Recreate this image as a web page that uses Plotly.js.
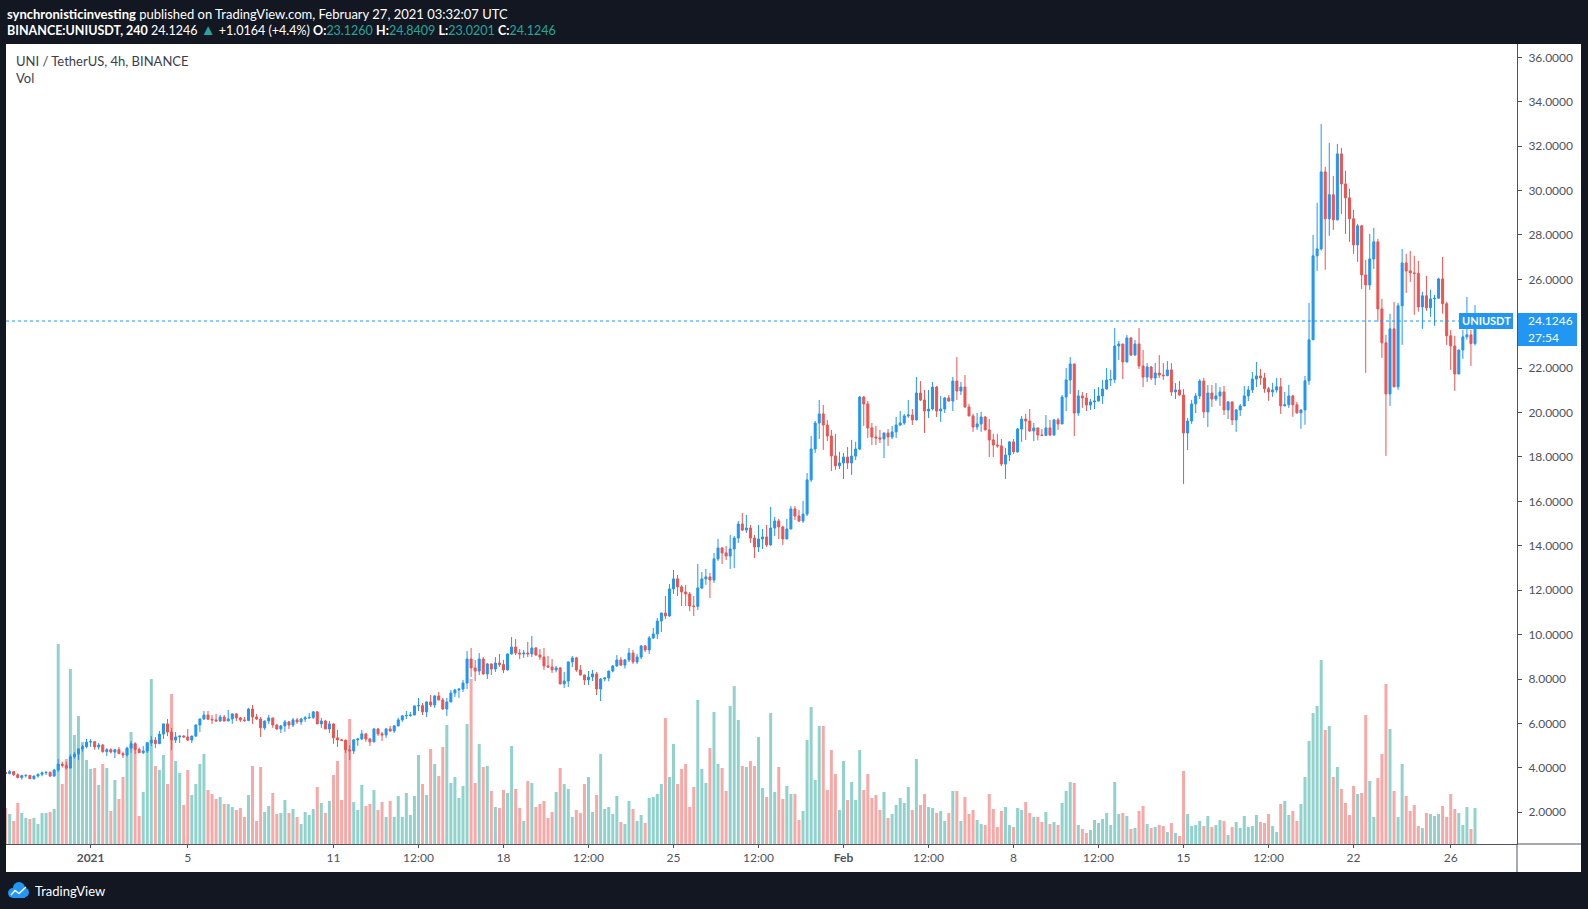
<!DOCTYPE html>
<html><head><meta charset="utf-8">
<script src="https://cdn.plot.ly/plotly-3.0.1.min.js"></script>
<style>html,body{margin:0;padding:0;background:#fff;}#chart{width:1588px;height:909px;}</style>
</head><body><div id="chart"></div>
<script>
// ---- data ----
const START = '2020-12-28T12:00:00Z';   // first 4h candle
const FIRST_OPEN = 3.79;
const close = [
3.74,3.83,3.69,3.56,3.65,3.66,3.51,3.63,3.71,3.78,
3.80,3.63,3.90,4.17,4.11,3.99,4.50,4.62,4.85,4.95,
5.16,5.18,4.94,5.03,4.73,4.82,4.71,4.82,4.64,4.58,
4.89,5.09,4.83,4.68,4.76,5.12,5.25,5.09,5.52,5.98,
5.61,5.25,5.39,5.43,5.39,5.25,5.43,5.93,6.20,6.38,
6.19,6.16,6.11,6.29,6.11,6.20,6.43,6.25,6.16,6.13,
6.65,6.29,6.20,5.80,6.11,6.25,5.93,5.75,5.89,6.07,
5.93,6.16,6.07,6.20,6.25,6.27,6.52,5.98,6.11,5.75,
5.98,5.35,5.26,5.24,4.81,4.76,5.26,5.30,5.53,5.30,
5.17,5.75,5.53,5.48,5.75,5.66,5.89,6.16,6.34,6.36,
6.38,6.79,6.80,6.52,6.97,6.83,7.24,7.06,6.65,6.97,
7.37,7.51,7.55,7.82,8.90,8.50,8.36,8.90,8.23,8.68,
8.45,8.72,8.65,8.41,9.13,9.44,9.17,9.13,9.17,9.13,
9.40,9.08,8.99,8.59,8.54,8.41,8.50,7.78,7.91,8.77,
8.95,8.41,8.18,7.96,8.09,8.23,7.55,8.00,8.05,8.36,
8.59,8.86,8.63,8.86,9.17,8.77,8.99,9.49,9.31,9.85,
10.03,10.61,10.97,10.84,12.06,12.51,12.15,11.92,11.83,11.29,
11.27,12.10,12.51,12.60,12.46,13.41,13.90,13.68,13.54,13.86,
14.35,14.98,14.71,14.80,14.35,13.95,14.31,14.40,14.04,14.80,
15.12,14.85,14.31,14.76,15.66,15.34,15.12,15.43,16.97,18.36,
19.53,19.94,19.44,18.95,18.05,17.60,17.73,18.00,17.73,18.04,
18.36,20.70,20.39,19.31,18.90,18.86,18.81,19.08,18.90,19.13,
19.44,19.53,19.85,19.89,19.67,20.88,20.57,20.07,20.16,21.15,
20.07,20.16,20.66,20.52,21.42,20.97,21.15,20.25,19.85,19.35,
19.49,19.80,19.22,18.77,18.54,18.50,17.68,18.09,18.68,18.23,
19.26,19.71,19.62,19.17,19.31,18.99,18.97,19.31,18.99,19.67,
19.49,20.70,21.47,22.19,19.98,20.75,20.66,20.34,20.48,20.52,
20.75,21.06,21.47,21.49,23.00,23.09,22.28,23.36,22.59,23.09,
22.10,21.60,22.05,21.56,21.78,21.69,21.66,21.92,20.93,21.02,
20.79,19.08,19.62,20.39,20.75,21.42,20.03,20.88,20.61,20.75,
20.93,20.12,20.48,19.67,20.12,20.30,20.75,21.02,21.51,21.65,
21.56,21.07,20.93,21.02,21.16,20.30,20.35,20.75,20.35,19.99,
20.12,21.43,23.28,27.06,27.37,30.84,28.73,29.81,28.68,31.65,
30.30,29.67,28.73,27.55,28.41,26.20,25.75,26.92,27.69,24.67,
23.14,20.84,23.77,21.16,24.81,26.74,26.38,26.29,26.27,24.76,
25.26,24.72,25.12,25.15,26.02,24.90,23.46,23.00,21.74,22.82,
23.41,23.50,23.108,24.1246
];
const high = [
3.81,3.90,3.86,3.75,3.68,3.71,3.68,3.65,3.74,3.83,
3.83,3.83,3.96,4.40,4.28,4.28,4.61,4.71,4.88,5.03,
5.30,5.30,5.16,5.12,5.07,4.89,4.88,4.86,4.94,4.73,
4.95,5.21,5.16,4.91,4.98,5.16,5.43,5.39,5.66,5.98,
6.20,5.79,5.61,5.45,5.48,5.75,5.45,5.95,6.22,6.56,
6.56,6.38,6.43,6.38,6.38,6.61,6.45,6.45,6.29,6.29,
6.70,6.83,6.43,6.29,6.13,6.38,6.25,5.98,5.93,6.16,
6.11,6.25,6.25,6.25,6.34,6.47,6.56,6.56,6.25,6.16,
6.11,6.00,5.71,5.30,5.28,5.03,5.28,5.32,5.71,5.55,
5.35,5.80,5.80,5.62,5.80,5.89,5.93,6.25,6.38,6.56,
6.52,6.80,7.15,6.92,6.99,7.28,7.28,7.42,7.15,7.15,
7.51,7.55,7.56,7.96,9.26,9.40,8.86,9.17,8.99,8.72,
8.70,8.99,9.13,8.86,9.15,9.89,9.80,9.35,9.31,9.67,
9.94,9.44,9.35,9.40,9.04,8.90,8.59,8.54,8.32,8.79,
9.04,9.00,8.63,8.20,8.36,8.41,8.32,8.05,8.07,8.37,
8.63,9.08,8.99,8.90,9.40,9.31,9.13,9.53,9.53,9.94,
10.30,10.75,10.99,11.74,12.28,12.91,12.69,12.24,12.24,11.92,
11.74,13.18,12.82,12.96,12.78,13.68,14.31,13.95,13.99,14.49,
14.44,15.12,15.48,15.39,14.94,14.49,14.94,14.76,14.94,15.75,
15.30,15.21,14.90,15.21,15.79,15.79,15.61,16.02,17.28,18.95,
19.62,20.57,20.34,19.67,19.22,19.04,18.23,18.18,18.45,18.77,
18.68,20.75,20.75,20.52,19.53,19.40,19.22,19.10,19.26,19.40,
19.80,20.07,19.94,20.57,20.16,21.60,21.42,21.02,21.02,21.38,
21.20,20.75,20.70,20.79,21.60,22.50,21.38,21.69,20.39,19.94,
19.98,20.03,19.85,19.71,19.04,19.04,18.81,18.41,18.72,18.81,
19.31,19.85,19.94,20.16,19.53,19.31,19.26,19.89,19.66,19.71,
19.76,20.79,22.01,22.50,22.19,21.02,20.93,20.88,20.61,21.06,
21.15,21.47,22.01,21.92,23.81,23.22,23.09,23.49,23.40,23.27,
23.81,22.82,22.23,22.10,22.23,22.59,22.23,22.32,22.23,21.33,
21.42,21.06,19.76,20.57,20.88,21.51,21.56,21.24,21.24,21.33,
21.15,21.20,20.52,20.50,20.16,20.39,21.20,21.20,21.83,22.28,
21.97,21.79,21.16,21.34,21.56,21.56,20.93,21.25,20.80,20.48,
20.14,21.65,24.94,28.00,29.45,33.00,31.07,32.15,30.66,32.10,
31.92,30.89,30.08,29.13,28.50,28.45,26.88,28.05,28.32,27.82,
25.12,23.50,24.45,24.99,24.94,27.37,27.15,27.28,27.06,26.83,
25.44,26.16,25.53,25.30,26.07,27.01,24.99,23.72,23.46,22.84,
23.72,25.21,23.72,24.8409
];
const low = [
3.72,3.71,3.63,3.53,3.47,3.56,3.50,3.47,3.56,3.62,
3.68,3.60,3.60,3.81,4.01,3.92,3.98,4.41,4.35,4.73,
4.88,4.95,4.82,4.82,4.68,4.53,4.65,4.44,4.62,4.44,
4.50,4.67,4.62,4.67,4.62,4.67,4.98,4.89,5.07,5.30,
5.43,4.80,5.12,5.12,5.36,5.21,5.12,5.39,5.61,6.16,
6.16,5.98,6.08,6.08,6.08,6.11,5.98,6.11,6.07,6.07,
6.10,5.98,6.16,5.39,5.71,5.98,5.80,5.71,5.57,5.62,
5.75,5.84,5.98,5.93,6.07,6.20,6.20,5.98,5.80,5.75,
5.57,5.08,4.94,5.21,4.67,4.35,4.62,4.99,5.26,5.17,
4.99,5.15,5.44,5.21,5.35,5.62,5.57,5.87,6.07,6.20,
6.30,6.36,6.56,6.38,6.29,6.74,6.70,7.04,6.61,6.34,
6.95,7.19,7.15,7.42,7.55,8.09,7.91,8.18,8.20,8.00,
8.18,8.32,8.54,8.27,8.38,9.10,9.08,8.90,8.95,8.99,
8.99,9.05,8.86,8.41,8.52,8.27,8.30,7.76,7.60,7.64,
8.54,8.32,8.16,7.73,7.73,7.91,7.28,7.01,7.90,7.90,
8.30,8.55,8.59,8.47,8.77,8.68,8.68,8.90,9.22,9.13,
9.80,9.80,10.12,10.70,10.80,11.83,11.74,11.29,11.29,11.06,
10.84,11.11,12.05,12.24,11.65,12.33,13.32,13.18,13.36,12.96,
13.00,14.13,14.67,14.58,14.13,13.45,13.72,13.86,13.95,14.00,
14.44,14.31,14.04,14.29,14.74,15.16,15.07,15.03,15.34,16.88,
18.18,18.81,18.32,18.72,17.37,17.42,17.46,17.01,17.46,17.19,
17.86,18.31,19.40,18.86,18.54,18.54,18.63,17.95,18.50,18.80,
18.86,19.40,19.45,19.76,19.44,19.65,20.52,19.08,19.76,20.10,
19.80,19.58,19.98,20.48,20.07,20.57,20.79,20.23,19.83,19.13,
19.22,19.13,19.20,18.00,18.00,18.41,17.59,17.01,17.82,18.14,
18.20,18.68,18.77,19.13,18.72,18.75,18.94,18.95,18.94,18.96,
19.22,19.47,20.07,20.84,18.94,19.85,20.21,20.07,20.12,20.16,
20.50,20.39,21.04,21.20,21.33,22.37,21.51,22.26,22.55,22.57,
21.96,21.15,21.38,21.47,21.24,21.56,21.47,21.64,20.75,20.61,
20.77,16.78,18.31,19.49,19.98,20.61,19.76,19.35,20.25,20.52,
20.30,19.89,19.71,19.44,19.13,19.85,20.28,20.52,20.88,21.15,
21.25,20.89,20.53,20.71,20.90,19.94,20.28,20.21,19.81,19.95,
19.27,19.45,21.25,23.26,26.38,27.30,26.43,27.96,28.23,28.66,
28.95,28.05,27.69,27.15,26.79,25.57,21.79,25.53,26.47,24.09,
22.46,18.05,20.30,21.14,21.02,23.05,25.39,25.89,24.40,24.54,
23.77,24.58,24.31,23.91,25.13,24.45,23.05,21.92,20.98,21.72,
22.42,23.28,22.10,23.0201
];
const volume = [ // millions of UNI (approx.)
1.8,1.5,1.15,2.05,1.55,1.3,1.25,1.3,1.0,1.55,
1.55,1.6,1.75,10.0,3.0,4.25,8.75,5.45,6.4,5.1,
4.2,3.75,3.8,2.95,4.0,3.8,1.65,3.2,2.25,3.35,
4.75,5.6,5.0,1.4,2.6,5.1,8.25,3.9,3.7,4.45,
3.0,7.5,4.15,3.55,1.95,3.7,2.45,3.0,4.0,4.5,
2.7,2.5,2.25,2.35,2.0,2.0,1.85,1.7,1.8,1.35,
2.45,3.9,1.15,3.85,1.6,1.9,2.55,1.5,1.55,2.2,
1.55,1.75,1.35,1.0,1.6,1.45,1.75,2.85,2.05,1.55,
2.15,3.45,4.15,2.2,5.2,6.25,2.1,1.7,2.95,1.9,
2.0,2.7,1.7,2.1,1.35,2.15,1.35,2.4,1.35,2.55,
1.45,2.4,4.45,3.0,2.45,4.75,4.0,3.4,4.85,5.95,
3.05,3.35,2.3,2.9,6.0,8.25,3.05,5.0,3.85,3.9,
2.65,1.85,1.8,2.7,2.55,4.9,2.75,1.8,1.15,3.15,
3.05,1.85,2.0,2.15,1.3,1.6,2.6,3.8,3.0,2.75,
1.35,1.7,1.55,3.0,3.35,1.6,2.45,4.5,1.75,1.85,
1.5,2.4,1.1,1.0,2.15,1.75,1.15,1.45,1.05,2.3,
2.35,2.5,3.0,6.3,3.35,5.0,3.0,3.75,4.0,1.85,
2.85,7.2,3.75,3.05,4.8,6.6,4.0,3.8,2.65,6.9,
7.9,6.2,3.9,3.85,4.15,3.9,5.35,2.8,2.35,6.55,
2.6,3.85,2.25,2.9,2.5,2.5,1.2,1.65,5.2,6.85,
3.2,5.9,5.9,2.7,4.7,3.5,1.7,4.15,2.2,3.1,
2.2,4.7,2.7,3.5,2.3,2.45,1.7,2.6,1.3,1.5,
1.95,2.3,2.05,2.85,1.7,4.25,1.95,2.5,1.85,1.8,
1.55,1.65,1.15,1.55,2.65,2.65,1.15,2.35,1.5,1.7,
1.2,1.0,0.95,2.5,1.75,0.85,1.65,1.85,0.95,0.85,
1.8,1.7,2.1,1.55,1.35,1.35,1.1,1.6,1.0,1.1,
0.95,2.05,2.65,3.1,3.05,0.95,0.75,0.55,0.7,1.2,
1.05,1.25,1.55,0.95,3.1,1.5,1.55,1.4,0.75,0.8,
1.65,1.9,1.0,0.8,0.85,0.95,0.9,0.6,1.05,0.55,
0.4,3.65,1.5,0.9,0.95,1.15,0.9,1.4,0.85,0.95,
1.2,1.15,0.45,0.85,1.1,0.8,1.4,0.85,0.9,1.45,
1.1,1.05,1.5,0.9,0.6,2.0,2.15,1.45,1.65,1.15,
2.0,3.35,5.15,6.55,6.9,9.2,5.7,5.9,3.35,3.85,
2.75,2.05,1.45,2.9,2.5,2.55,6.45,3.15,1.35,3.3,
4.5,8.0,5.75,2.65,1.35,4.0,2.4,1.65,1.95,0.9,
0.8,1.55,1.5,1.4,1.5,1.9,1.35,2.5,1.75,1.55,
0.95,1.85,0.75,1.8
];
const priceTicks = [2,4,6,8,10,12,14,16,18,20,22,24,26,28,30,32,34,36];
const timeTickVals = ['2021-01-01','2021-01-05','2021-01-11','2021-01-14 12:00','2021-01-18','2021-01-21 12:00','2021-01-25','2021-01-28 12:00','2021-02-01','2021-02-04 12:00','2021-02-08','2021-02-11 12:00','2021-02-15','2021-02-18 12:00','2021-02-22','2021-02-26'];
const timeTickText = ['<b>2021</b>','5','11','12:00','18','12:00','25','12:00','<b>Feb</b>','12:00','8','12:00','15','12:00','22','26'];
const LAST = 24.1246;

// ---- build traces ----
const t0 = Date.parse(START);
const x = close.map((_, i) => t0 + i * 4 * 3600 * 1000);
const open = close.map((c, i) => i === 0 ? FIRST_OPEN : close[i - 1]);
const hi = high.map((h, i) => Math.max(h, open[i], close[i]));
const lo = low.map((l, i) => Math.min(l, open[i], close[i]));
const UP = '#2196f3', DN = '#ef5350';
const volColors = close.map((c, i) => c >= open[i] ? 'rgba(38,166,154,0.5)' : 'rgba(239,83,80,0.5)');

const W = 1588, H = 909, L = 6, R = 1517, T = 44, B = 844;
const px = v => (v - L) / (R - L);
const py = v => (B - v) / (B - T);
const FONT = 'Lato, "Open Sans", sans-serif';

const traces = [
  {type: 'bar', x: x, y: volume, marker: {color: volColors, line: {width: 0}}, yaxis: 'y', hoverinfo: 'skip', showlegend: false},
  {type: 'candlestick', x: x, open: open, high: hi, low: lo, close: close, yaxis: 'y2',
   increasing: {line: {color: UP, width: 1}, fillcolor: UP},
   decreasing: {line: {color: DN, width: 1}, fillcolor: DN},
   whiskerwidth: 0, hoverinfo: 'skip', showlegend: false}
];

const rect = (x0, y0, x1, y1, color) => ({type: 'rect', xref: 'paper', yref: 'paper', x0: px(x0), x1: px(x1), y0: py(y0), y1: py(y1), fillcolor: color, line: {width: 0}, layer: 'below'});
const AX = '#50535e';
const shapes = [
  rect(0, 0, W, T, '#131722'),
  rect(0, 872, W, H, '#131722'),
  rect(0, T, L, 872, '#131722'),
  rect(1581, T, W, 872, '#131722'),
  {type: 'line', xref: 'paper', yref: 'paper', x0: px(R), x1: px(R), y0: py(B), y1: py(872), line: {color: AX, width: 1}},
  {type: 'line', xref: 'paper', yref: 'paper', x0: px(R), x1: px(1581), y0: py(B), y1: py(B), line: {color: AX, width: 1}},
  {type: 'line', xref: 'paper', yref: 'y2', x0: 0, x1: px(1459), y0: LAST, y1: LAST, line: {color: UP, width: 1, dash: 'dot'}},
  {type: 'rect', xref: 'paper', yref: 'paper', x0: px(1459), x1: px(1513), y0: py(313), y1: py(329), fillcolor: UP, line: {width: 0}},
  {type: 'rect', xref: 'paper', yref: 'paper', x0: px(1518), x1: px(1577), y0: py(313), y1: py(346), fillcolor: UP, line: {width: 0}},
  // TradingView logo (cloud)
  {type: 'circle', xref: 'paper', yref: 'paper', x0: px(8), x1: px(18), y0: py(888), y1: py(898), fillcolor: '#2196f3', line: {width: 0}},
  {type: 'circle', xref: 'paper', yref: 'paper', x0: px(13), x1: px(25), y0: py(882), y1: py(894), fillcolor: '#2196f3', line: {width: 0}},
  {type: 'circle', xref: 'paper', yref: 'paper', x0: px(20), x1: px(29), y0: py(888), y1: py(897), fillcolor: '#2196f3', line: {width: 0}},
  {type: 'rect', xref: 'paper', yref: 'paper', x0: px(13), x1: px(25), y0: py(891), y1: py(898), fillcolor: '#2196f3', line: {width: 0}},
  {type: 'path', xref: 'paper', yref: 'paper', path: `M ${px(11)} ${py(895)} L ${px(15)} ${py(890.5)} L ${px(19)} ${py(893.5)} L ${px(26)} ${py(887)}`, line: {color: '#ffffff', width: 1.5}}
];

const T1 = '#26a69a';
const ann = (xp, yp, text, size, color, anchor) => ({xref: 'paper', yref: 'paper', x: px(xp), y: py(yp), text: text, showarrow: false, xanchor: anchor || 'left', yanchor: 'middle', font: {family: FONT, size: size, color: color}});
const annotations = [
  ann(5, 14, '<b>synchronisticinvesting</b> published on TradingView.com, February 27, 2021 03:32:07 UTC', 13, '#ffffff'),
  ann(5, 29, `<b>BINANCE:UNIUSDT, 240</b> 24.1246 <span style="color:${T1};font-size:15px">▲</span> +1.0164 (+4.4%) <b>O:</b><span style="color:${T1}">23.1260</span> <b>H:</b><span style="color:${T1}">24.8409</span> <b>L:</b><span style="color:${T1}">23.0201</span> <b>C:</b><span style="color:${T1}">24.1246</span>`, 12.5, '#ffffff'),
  ann(14, 61, 'UNI / TetherUS, 4h, BINANCE', 13, '#3b3e48'),
  ann(14, 78, 'Vol', 13, '#3b3e48'),
  ann(1486, 321, '<b>UNIUSDT</b>', 11, '#ffffff', 'center'),
  ann(1526, 321, '24.1246', 12, '#ffffff'),
  ann(1526, 337, '27:54', 12, '#ffffff'),
  ann(33, 891, 'TradingView', 13, '#ffffff')
];

const layout = {
  width: W, height: H,
  margin: {l: L, r: W - R, t: T, b: H - B, pad: 0},
  paper_bgcolor: '#ffffff', plot_bgcolor: '#ffffff',
  showlegend: false, bargap: 0.26, boxgap: 0.3, dragmode: false, hovermode: false,
  font: {family: FONT, size: 12, color: AX},
  xaxis: {type: 'date', range: ['2020-12-28 12:24', '2021-02-28 17:30'], showgrid: false, zeroline: false,
    showline: true, linecolor: AX, linewidth: 1, ticks: 'outside', ticklen: 3, tickcolor: AX,
    tickvals: timeTickVals, ticktext: timeTickText, tickfont: {family: FONT, size: 12, color: AX},
    rangeslider: {visible: false}, fixedrange: true},
  yaxis: {range: [0, 40], visible: false, showgrid: false, zeroline: false, fixedrange: true},
  yaxis2: {overlaying: 'y', side: 'right', anchor: 'x', range: [0.57, 36.60], showgrid: false, zeroline: false,
    showline: true, linecolor: AX, linewidth: 1, ticks: 'outside', ticklen: 4, tickcolor: AX,
    tickvals: priceTicks, ticktext: priceTicks.map(v => v.toFixed(4)), ticklabelstandoff: 4,
    tickfont: {family: FONT, size: 12, color: AX}, fixedrange: true},
  shapes: shapes,
  annotations: annotations
};
Plotly.newPlot('chart', traces, layout, {staticPlot: true, displayModeBar: false});
</script></body></html>
